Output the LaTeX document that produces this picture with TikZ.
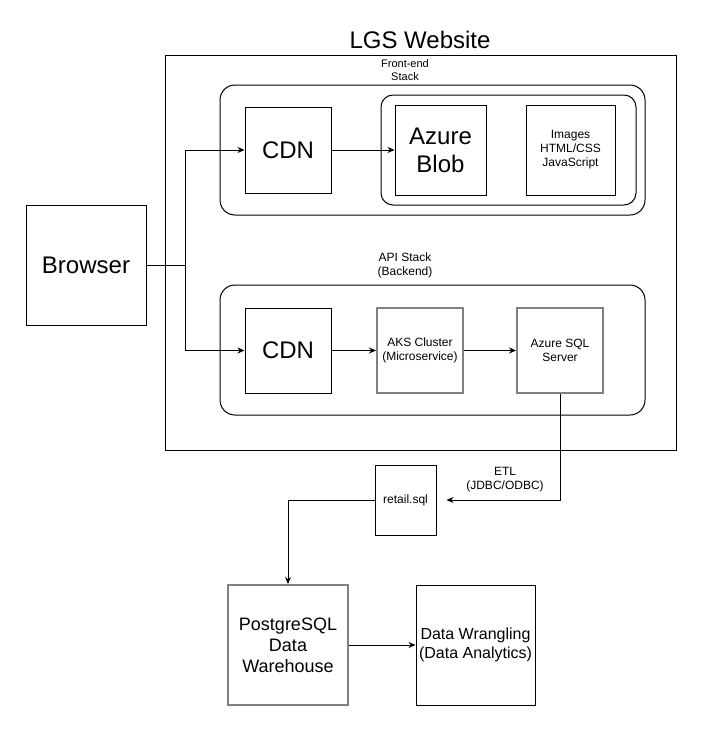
\documentclass[tikz,border=0pt]{standalone}
\usepackage{fontspec}
\setmainfont{Liberation Sans}
\usetikzlibrary{arrows.meta}
\tikzset{
    box/.style={draw, line width=1pt, inner sep=0pt, align=center, font=\fontsize{12}{14}\selectfont},
    greybox/.style={box, draw=gray, line width=2pt},
    big/.style={font=\fontsize{24}{28}\selectfont},
    mid/.style={font=\fontsize{18}{21}\selectfont},
    stack/.style={draw, line width=1pt, rounded corners=15pt},
    lbl/.style={align=center, inner sep=0pt, font=\fontsize{12}{14}\selectfont},
    link/.style={line width=1pt, -{Stealth[length=7pt,width=6pt]}}
}

\begin{document}
\begin{tikzpicture}[x=1pt, y=-1pt]
    \useasboundingbox (0,0) rectangle (701,731);
    %site
    \node[lbl, font=\fontsize{24}{28}\selectfont] (title) at (420,40) {LGS Website};
    \draw[line width=1pt] (165,55) rectangle (676,450);
    %front-end
    \node[lbl, font=\fontsize{11}{13}\selectfont] (felbl) at (405,70) {Front-end\\Stack};
    \draw[stack] (220,85) rectangle (645,215);
    \draw[stack, rounded corners=12pt] (381,95) rectangle (636,205);
    \node[box, big, minimum width=86pt, minimum height=86pt] (cdnfe) at (288,150) {CDN};
    \node[box, big, minimum width=91pt, minimum height=90pt] (blob) at (440.5,150) {Azure\\Blob};
    \node[box, minimum width=89pt, minimum height=90pt] (assets) at (570.5,150) {Images\\HTML/CSS\\JavaScript};
    %browser
    \node[box, big, minimum width=120pt, minimum height=120pt] (browser) at (86,265) {Browser};
    \coordinate (split) at (185,265);
    %api
    \node[lbl] (apilbl) at (405,265) {API Stack\\(Backend)};
    \draw[stack] (220,285) rectangle (645,415);
    \node[box, big, minimum width=86pt, minimum height=85pt] (cdnapi) at (288,350.5) {CDN};
    \node[greybox, minimum width=86pt, minimum height=85pt] (aks) at (420,350.5) {AKS Cluster\\(Microservice)};
    \node[greybox, minimum width=86pt, minimum height=85pt] (sql) at (560,350.5) {Azure SQL\\Server};
    %data
    \node[box, minimum width=61pt, minimum height=70pt] (retail) at (405.5,500) {retail.sql};
    \node[lbl] (etl) at (505,480) {ETL\\(JDBC/ODBC)};
    \node[greybox, mid, minimum width=120pt, minimum height=120pt] (pg) at (288,645) {PostgreSQL\\Data\\Warehouse};
    \node[box, font=\fontsize{16}{19}\selectfont, minimum width=119pt, minimum height=120pt] (wrangle) at (475.5,645) {Data Wrangling\\(Data Analytics)};
    %links
    \draw[line width=1pt] (browser) -- (split);
    \draw[link] (split) |- (cdnfe);
    \draw[link] (split) |- (cdnapi);
    \draw[link] (cdnfe) -- (blob);
    \draw[link] (cdnapi) -- (aks);
    \draw[link] (aks) -- (sql);
    \draw[link, shorten >=10pt] (sql.south) |- (retail.east);
    \draw[link] (retail.west) -| (pg.north);
    \draw[link] (pg) -- (wrangle);
\end{tikzpicture}
\end{document}
